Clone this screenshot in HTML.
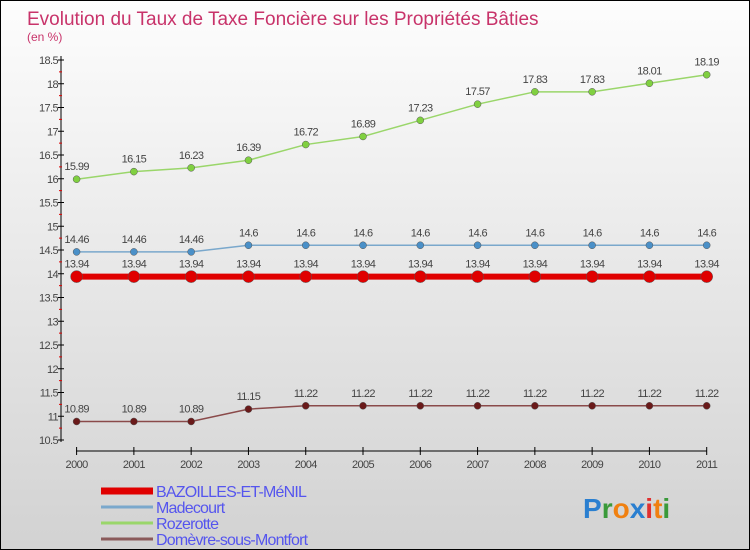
<!DOCTYPE html>
<html><head><meta charset="utf-8"><style>
body{margin:0}
#c{width:750px;height:550px;position:relative;overflow:hidden;box-sizing:border-box;border:1px solid #000;background:linear-gradient(#fdfdfd,#f0f0f0 30%,#d2d2d2);font-family:"Liberation Sans",sans-serif}
</style></head><body>
<div id="c">
<svg id="s" width="750" height="550" style="position:absolute;left:0;top:0"></svg>
</div>
<script>
const years=[2000,2001,2002,2003,2004,2005,2006,2007,2008,2009,2010,2011];
const bazoilles=[13.94,13.94,13.94,13.94,13.94,13.94,13.94,13.94,13.94,13.94,13.94,13.94];
const madecourt=[14.46,14.46,14.46,14.6,14.6,14.6,14.6,14.6,14.6,14.6,14.6,14.6];
const rozerotte=[15.99,16.15,16.23,16.39,16.72,16.89,17.23,17.57,17.83,17.83,18.01,18.19];
const domevre=[10.89,10.89,10.89,11.15,11.22,11.22,11.22,11.22,11.22,11.22,11.22,11.22];
const yTicks=[10.5,11,11.5,12,12.5,13,13.5,14,14.5,15,15.5,16,16.5,17,17.5,18,18.5];
const s=document.getElementById('s');const NS='http://www.w3.org/2000/svg';
function X(i){return 75.6+i*(705.7-75.6)/11}
function Y(v){return 439-(v-10.5)*47.5}
function el(t,a,p){const e=document.createElementNS(NS,t);for(const k in a)e.setAttribute(k,a[k]);(p||s).appendChild(e);return e}
let t=el('text',{x:26,y:24,fill:'#c8336a','font-size':19});t.textContent='Evolution du Taux de Taxe Foncière sur les Propriétés Bâties';

t=el('text',{x:26,y:40,fill:'#c8336a','font-size':12});t.textContent='(en %)';

let a=el('line',{x1:60,y1:55,x2:60,y2:441,stroke:'#000'});
a=el('line',{x1:75,y1:450,x2:706,y2:450,stroke:'#000'});
yTicks.forEach((v,i)=>{const y=Y(v);
 el('line',{x1:57,y1:y,x2:63,y2:y,stroke:'#000'});
 const l=el('text',{x:57,y:y+4,'text-anchor':'end','font-size':11,fill:'#444','letter-spacing':'-0.6'});l.textContent=v;
 if(i<yTicks.length-1){const ym=Y(v+0.25);el('line',{x1:58,y1:ym,x2:61,y2:ym,stroke:'#d00'});}
});
years.forEach((yr,i)=>{el('line',{x1:X(i),y1:446,x2:X(i),y2:454,stroke:'#000'});const l=el('text',{x:X(i),y:467,'text-anchor':'middle','font-size':11,fill:'#444','letter-spacing':'-0.6'});l.textContent=yr;});
function series(d,name,lc,pc,w,r){
 const g=el('g',{});
 el('polyline',{points:d.map((v,i)=>X(i)+','+Y(v)).join(' '),fill:'none',stroke:lc,'stroke-width':w},g);
 d.forEach((v,i)=>{const c=el('circle',{cx:X(i),cy:Y(v),r:r,fill:pc,stroke:'#555','stroke-width':0.5},g);
  const l=el('text',{x:X(i),y:Y(v)-9,'text-anchor':'middle','font-size':11,fill:'#444','letter-spacing':'-0.6'},g);l.textContent=v;});
}
series(rozerotte,'rozerotte','#9ad66a','#80d040',1.5,3.5);
series(madecourt,'madecourt','#7aa8cc','#4a90c8',1.5,3.5);
series(bazoilles,'bazoilles','#e00000','#e00000',6,6);
series(domevre,'domevre','#8a4a4a','#6a1a1a',1.5,3.5);
const leg=[['BAZOILLES-ET-MéNIL','#e00000',7],['Madecourt','#7aa8cc',3],['Rozerotte','#9ad66a',3],['Domèvre-sous-Montfort','#8a5a5a',3]];
leg.forEach((L,i)=>{const y=490+i*16;const g=el('g',{});
 el('line',{x1:100,y1:y,x2:152,y2:y,stroke:L[1],'stroke-width':L[2]},g);
 const tx=el('text',{x:155,y:y+6,'font-size':16,fill:'#5555ee','letter-spacing':'-0.8'},g);tx.textContent=L[0];});
const lg=el('text',{x:582,y:517,'font-size':28,'font-weight':'bold'});
[['P','#2a7fd0'],['r','#3a9a3a'],['o','#f08010'],['x','#2a7fd0'],['i','#e03030'],['t','#f08010'],['i','#3a9a3a']].forEach(c=>{const sp=el('tspan',{fill:c[1]},lg);sp.textContent=c[0];});
</script>
</body></html>
